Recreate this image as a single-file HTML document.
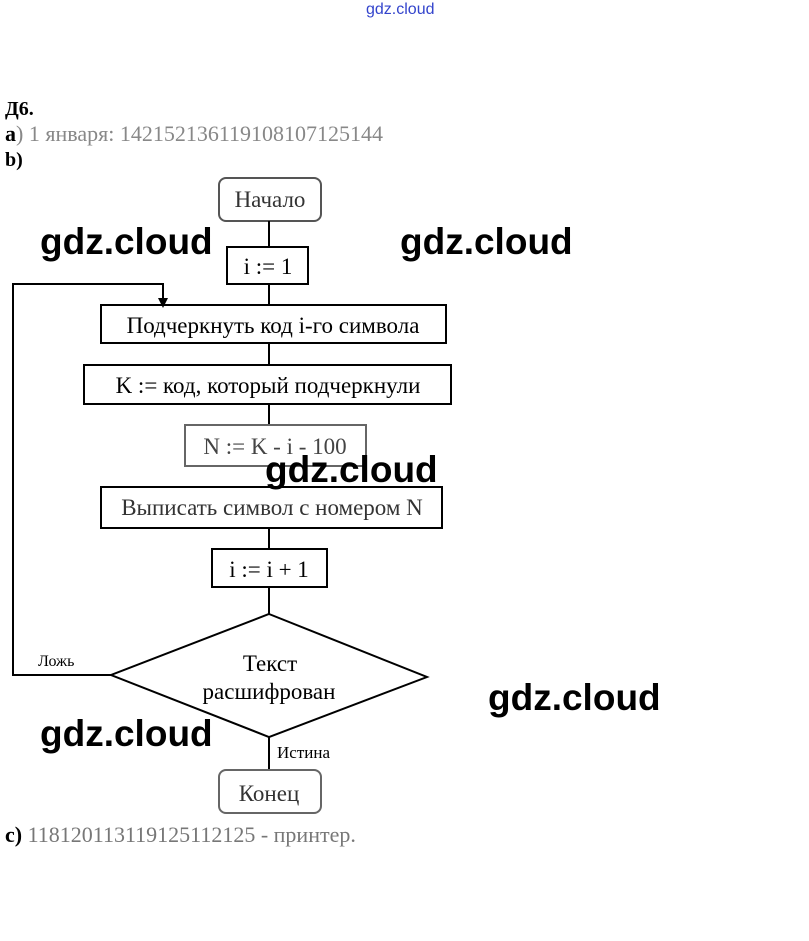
<!DOCTYPE html>
<html><head><meta charset="utf-8"><style>
body{margin:0;background:#fff;width:809px;height:941px;overflow:hidden;position:relative;font-family:"Liberation Serif",serif}
.t{position:absolute;white-space:nowrap;font-size:22px;color:#000;line-height:1}
.w{position:absolute;font-family:"Liberation Sans",sans-serif;font-weight:bold;font-size:37px;color:#000;white-space:nowrap;line-height:1}
</style></head><body>
<div class="t" style="left:366px;top:2px;font-family:'Liberation Sans',sans-serif;font-size:16px;color:#3344cc">gdz.cloud</div>
<div class="t" style="left:5px;top:99px;font-weight:bold;font-size:20px">Д6.</div>
<div class="t" style="left:5px;top:123px;color:#888"><b style="color:#000">a</b>) 1 января: 142152136119108107125144</div>
<div class="t" style="left:5px;top:150px;font-weight:bold;font-size:20px">b)</div>
<div class="t" style="left:5px;top:824px;color:#777"><b style="color:#000">c)</b> 118120113119125112125 - принтер.</div>
<svg width="809" height="941" style="position:absolute;left:0;top:0" font-family="Liberation Serif,serif" font-size="23">
<g stroke="#000" stroke-width="2" fill="none">
<rect x="219" y="178" width="102" height="43" rx="7" stroke="#555"/>
<line x1="269" y1="221" x2="269" y2="247"/>
<rect x="227" y="247" width="81" height="37"/>
<line x1="269" y1="284" x2="269" y2="305"/>
<rect x="101" y="305" width="345" height="38"/>
<line x1="269" y1="343" x2="269" y2="365"/>
<rect x="84" y="365" width="367" height="39"/>
<line x1="269" y1="404" x2="269" y2="425"/>
<rect x="185" y="425" width="181" height="41" stroke="#666"/>
<rect x="101" y="487" width="341" height="41"/>
<line x1="269" y1="528" x2="269" y2="549"/>
<rect x="212" y="549" width="115" height="38"/>
<line x1="269" y1="587" x2="269" y2="614"/>
<polygon points="269,614 427,677 269,737 111,675"/>
<polyline points="111,675 13,675 13,284 163,284 163,300"/>
<line x1="269" y1="737" x2="269" y2="770"/>
<rect x="219" y="770" width="102" height="43" rx="7" stroke="#666"/>
</g>
<polygon points="158,298 168,298 163,308" fill="#000"/>
<g text-anchor="middle" fill="#000">
<text x="270" y="207" fill="#333">Начало</text>
<text x="268" y="274">i := 1</text>
<text x="273" y="333">Подчеркнуть код i-го символа</text>
<text x="268" y="393">K := код, который подчеркнули</text>
<text x="275" y="454" fill="#444">N := K - i - 100</text>
<text x="272" y="515" fill="#333">Выписать символ с номером N</text>
<text x="269" y="577">i := i + 1</text>
<text x="270" y="671">Текст</text>
<text x="269" y="699">расшифрован</text>
<text x="269" y="801" fill="#333">Конец</text>
</g>
<text x="38" y="666" font-size="16">Ложь</text>
<text x="277" y="758" font-size="17">Истина</text>
</svg>
<div class="w" style="left:40px;top:223px">gdz.cloud</div>
<div class="w" style="left:400px;top:223px">gdz.cloud</div>
<div class="w" style="left:265px;top:451px">gdz.cloud</div>
<div class="w" style="left:488px;top:679px">gdz.cloud</div>
<div class="w" style="left:40px;top:715px">gdz.cloud</div>
</body></html>
